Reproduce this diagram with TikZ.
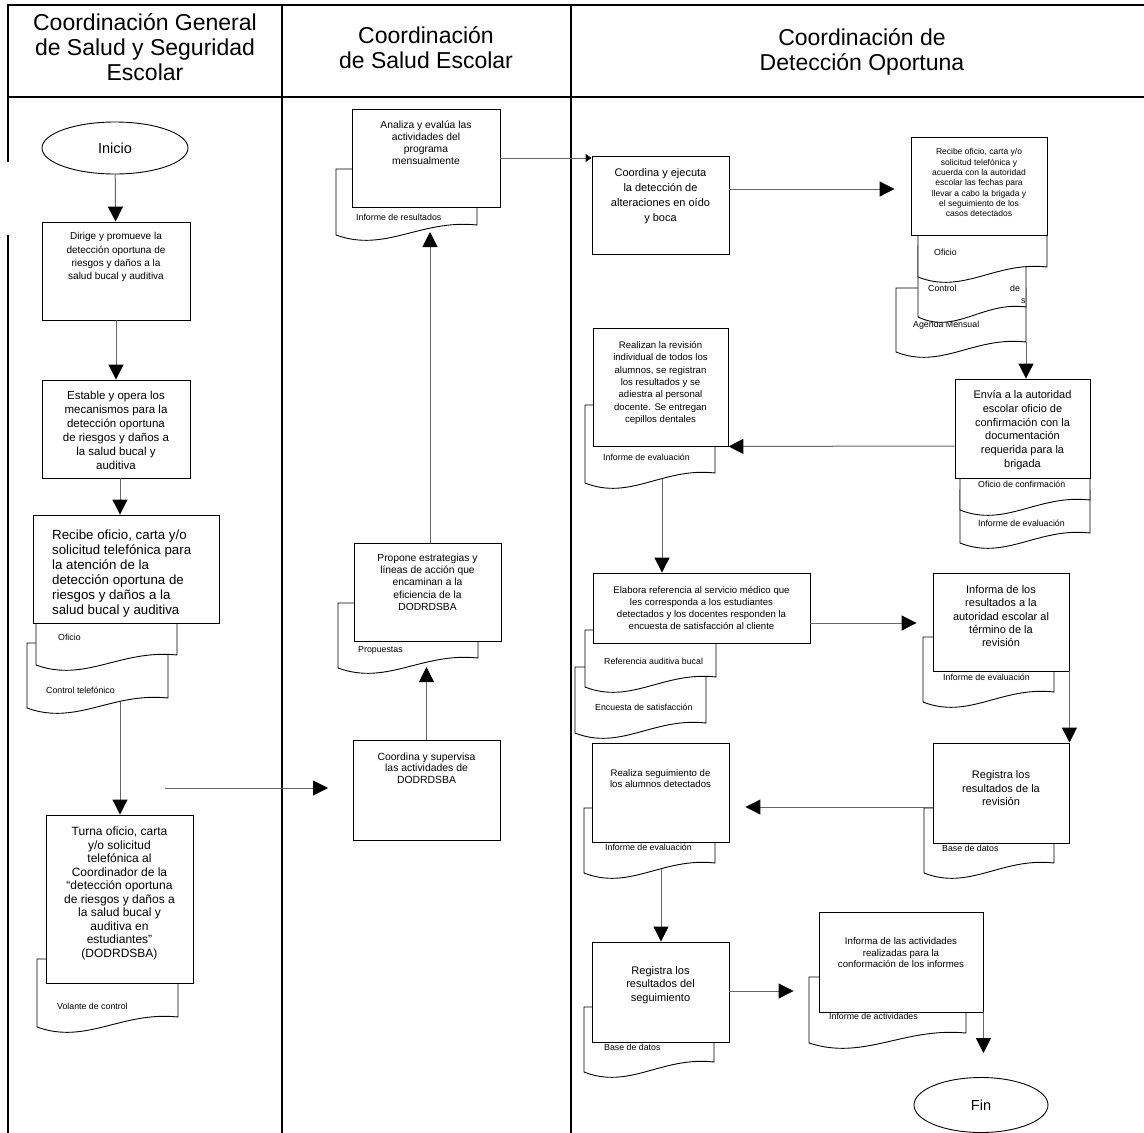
\documentclass[tikz,border=0pt]{standalone}
\usepackage{fontspec}
\setmainfont{Liberation Sans}
\usetikzlibrary{arrows.meta,shapes.geometric,calc}
\tikzset{
 lane/.style={line width=2pt, draw=black},
 box/.style={draw=black, line width=0.9pt, fill=white, rectangle, inner sep=0pt},
 term/.style={draw=black, line width=0.9pt, fill=white, ellipse, inner sep=0pt, font=\fontsize{14.5}{16}\selectfont},
 conn/.style={draw=black!60, line width=1pt, -{Triangle[width=15pt,length=15pt,color=black]}},
 smallconn/.style={draw=black!60, line width=1pt, -{Triangle[width=8pt,length=6pt,color=black]}},
 docst/.style={draw=black, line width=0.9pt, fill=white},
 dlbl/.style={font=\fontsize{8.8}{10}\selectfont, anchor=west, inner sep=0pt},
 txt/.style 2 args={font=\fontsize{#1}{#2}\selectfont, align=center, inner sep=0pt, anchor=north},
 hdr/.style={font=\fontsize{23}{25}\selectfont, align=center, inner sep=0pt},
}
\newcommand\mydoc[4]{\filldraw[docst] (#1,#2) -- (#1,#4) .. controls ({#1+0.35*(#3-#1)},{#4+18}) and ({#1+0.6*(#3-#1)},{#4-16}) .. (#3,{#4-10}) -- (#3,#2) -- cycle;}
\begin{document}
\begin{tikzpicture}[x=1pt,y=-1pt]
\useasboundingbox (0,0) rectangle (1144,1133);
% swimlanes
\draw[lane] (8,5) -- (1144,5);
\draw[lane] (8,97) -- (1144,97);
\draw[lane] (8,4) -- (8,162);
\draw[lane] (8,235) -- (8,1133);
\draw[lane] (282,4) -- (282,1133);
\draw[lane] (571,4) -- (571,1133);
\node[hdr] (h1) at (145,47) {Coordinación General\\de Salud y Seguridad\\Escolar};
\node[hdr] (h2) at (426,48) {Coordinación\\de Salud Escolar};
\node[hdr] (h3) at (862,52) {Coordinación de\\Detección Oportuna};

% ---------- lane 1
\node[term, minimum width=146pt, minimum height=52pt] (ini) at (115,148) {Inicio};
\node[box, minimum width=148pt, minimum height=98pt] (b1) at (116,271) {};
\node[txt={10}{13.1}] (b1t) at (116,232.5) {Dirige y promueve la\\detección oportuna de\\riesgos y daños a la\\salud bucal y auditiva};
\node[box, minimum width=148pt, minimum height=98pt] (b2) at (116,429) {};
\node[txt={11.5}{14}] (b2t) at (116,390.5) {Estable y opera los\\mecanismos para la\\detección oportuna\\de riesgos y daños a\\la salud bucal y\\auditiva};
\mydoc{27}{643}{168}{708}
\node[dlbl] (l2) at (46,690) {Control telefónico};
\mydoc{36}{600}{177}{665}
\node[dlbl] (l1) at (58,637) {Oficio};
\node[box, minimum width=186pt, minimum height=108pt] (b3) at (126,569) {};
\node[txt={13.3}{15}, anchor=north west, align=left] (b3t) at (52,530) {Recibe oficio, carta y/o\\solicitud telefónica para\\la atención de la\\detección oportuna de\\riesgos y daños a la\\salud bucal y auditiva};
\coordinate (d3) at (120,702);
\mydoc{37}{959}{178}{1027}
\node[dlbl] (l3) at (57,1006) {Volante de control};
\node[box, minimum width=147pt, minimum height=168pt] (b4) at (119.5,899) {};
\node[txt={12}{13.5}] (b4t) at (119.5,827) {Turna oficio, carta\\y/o solicitud\\telefónica al\\Coordinador de la\\“detección oportuna\\de riesgos y daños a\\la salud bucal y\\auditiva en\\estudiantes”\\(DODRDSBA)};
\coordinate (f1) at (165,788);
\coordinate (f2) at (328,788);

% ---------- lane 2
\mydoc{336}{169}{477}{235}
\node[dlbl] (l4) at (356,217) {Informe de resultados};
\node[box, minimum width=148pt, minimum height=98pt] (b5) at (426,158) {};
\node[txt={10.3}{12.2}] (b5t) at (426,120.5) {Analiza y evalúa las\\actividades del\\programa\\mensualmente};
\mydoc{338}{603}{478}{668}
\node[dlbl] (l5) at (358,650) {Propuestas};
\node[box, minimum width=147pt, minimum height=98pt] (b6) at (427.5,592) {};
\node[txt={10.3}{12.4}] (b6t) at (427.5,553.5) {Propone estrategias y\\líneas de acción que\\encaminan a la\\eficiencia de la\\DODRDSBA};
\node[box, minimum width=147pt, minimum height=100pt] (b7) at (426.5,790) {};
\node[txt={10.4}{11.5}] (b7t) at (426.5,752.5) {Coordina y supervisa\\las actividades de\\DODRDSBA};

% ---------- lane 3
\node[box, minimum width=137pt, minimum height=98pt] (b8) at (660.5,205) {};
\node[txt={11}{15}] (b8t) at (660.5,168.5) {Coordina y ejecuta\\la detección de\\alteraciones en oído\\y boca};
\mydoc{896}{288}{1026}{352}
\node[dlbl] (l8) at (913,325) {Agenda Mensual};
\coordinate (agR) at (1026,342);
\mydoc{918}{245}{1026}{317}
\node[dlbl] (l7a) at (928,288) {Control};
\node[dlbl] (l7b) at (1010,288) {de};
\node[dlbl] (l7c) at (1021,301) {s};
\mydoc{918}{225}{1047}{277}
\node[dlbl] (l6) at (934,252) {Oficio};
\node[box, minimum width=136pt, minimum height=98pt] (b9) at (979,186) {};
\node[txt={8.5}{10.3}] (b9t) at (979,148.5) {Recibe oficio, carta y/o\\solicitud telefónica y\\acuerda con la autoridad\\escolar las fechas para\\llevar a cabo la brigada y\\el seguimiento de los\\casos detectados};
\mydoc{960}{490}{1090}{543}
\node[dlbl] (l10) at (978,523) {Informe de evaluación};
\mydoc{960}{470}{1090}{510}
\node[dlbl] (l9) at (978,484) {Oficio de confirmación};
\node[box, minimum width=135pt, minimum height=99pt] (b10) at (1022.5,428.5) {};
\node[txt={11}{13.7}] (b10t) at (1022.5,390.5) {Envía a la autoridad\\escolar oficio de\\confirmación con la\\documentación\\requerida para la\\brigada};
\mydoc{585}{405}{715}{483}
\node[dlbl] (l11) at (603,457) {Informe de evaluación};
\coordinate (d11) at (662,479);
\node[box, minimum width=135pt, minimum height=118pt] (b11) at (660.5,387) {};
\node[txt={9.6}{12.4}] (b11t) at (660.5,341) {Realizan la revisión\\individual de todos los\\alumnos, se registran\\los resultados y se\\adiestra al personal\\docente. Se entregan\\cepillos dentales};
\mydoc{575}{667}{706}{733}
\node[dlbl] (l13) at (595,707) {Encuesta de satisfacción};
\mydoc{585}{630}{716}{687}
\node[dlbl] (l12) at (604,661) {Referencia auditiva bucal};
\node[box, minimum width=217pt, minimum height=70pt] (b12) at (701.5,608) {};
\node[txt={9.6}{12}] (b12t) at (701.5,586) {Elabora referencia al servicio médico que\\les corresponda a los estudiantes\\detectados y los docentes responden la\\encuesta de satisfacción al cliente};
\mydoc{923}{637}{1054}{702}
\node[dlbl] (l14) at (943,677) {Informe de evaluación};
\node[box, minimum width=136pt, minimum height=98pt] (b13) at (1001,622) {};
\node[txt={11}{13.3}] (b13t) at (1001,585.5) {Informa de los\\resultados a la\\autoridad escolar al\\término de la\\revisión};
\mydoc{924}{808}{1054}{873}
\node[dlbl] (l15) at (942,848) {Base de datos};
\node[box, minimum width=136pt, minimum height=100pt] (b14) at (1001,793) {};
\node[txt={11}{13.5}] (b14t) at (1001,770.5) {Registra los\\resultados de la\\revisión};
\mydoc{584}{808}{715}{873}
\node[dlbl] (l16) at (605,847) {Informe de evaluación};
\coordinate (d15) at (661,869);
\node[box, minimum width=137pt, minimum height=99pt] (b15) at (660.5,792.5) {};
\node[txt={9.6}{11.5}] (b15t) at (660.5,769) {Realiza seguimiento de\\los alumnos detectados};
\mydoc{584}{1007}{714}{1072}
\node[dlbl] (l17) at (604,1047) {Base de datos};
\node[box, minimum width=137pt, minimum height=100pt] (b16) at (660.5,992) {};
\node[txt={11}{13.3}] (b16t) at (660.5,966.5) {Registra los\\resultados del\\seguimiento};
\mydoc{809}{977}{966}{1043}
\node[dlbl] (l18) at (829,1016) {Informe de actividades};
\node[box, minimum width=164pt, minimum height=100pt] (b17) at (901,962) {};
\node[txt={9.65}{11.8}] (b17t) at (901,937) {Informa de las actividades\\realizadas para la\\conformación de los informes};
\node[term, minimum width=134pt, minimum height=55pt] (fin) at (981,1105) {Fin};

% ---------- connectors
\draw[conn] (ini) -- (b1);
\draw[conn] (b1) -- (b2);
\draw[conn] ([xshift=4pt]b2.south) -- ([xshift=4pt]b2.south |- b3.north);
\draw[conn] (d3) -- (d3 |- b4.north);
\draw[conn] (f1) -- (f2);
\draw[conn] (b7.north) -- (426.5,667);
\draw[conn] ([xshift=2.5pt]b6.north) -- (430,232);
\draw[smallconn] (b5.east) -- (b5.east -| b8.west);
\draw[conn, shorten >=16pt] ([yshift=16pt]b8.east) -- ([yshift=16pt]b8.east -| b9.west);
\draw[conn] (agR) -- (agR |- b10.north);
\draw[conn] ([yshift=-17.5pt]b10.west) -- (b11.south east);
\draw[conn] (d11) -- (d11 |- b12.north);
\draw[conn, shorten >=16pt] ([yshift=-15pt]b12.east) -- ([yshift=-15pt]b12.east -| b13.west);
\draw[conn] (b13.south east) -- (b14.north east);
\draw[conn, shorten >=16pt] ([yshift=-14pt]b14.west) -- ([yshift=-14pt]b14.west -| b15.east);
\draw[conn] (d15) -- (d15 |- b16.north);
\draw[conn, shorten >=25pt] ([yshift=1pt]b16.east) -- ([yshift=1pt]b16.east -| b17.west);
\draw[conn, shorten >=24pt] (b17.south east) -- (b17.south east |- fin.north);
\end{tikzpicture}
\end{document}
